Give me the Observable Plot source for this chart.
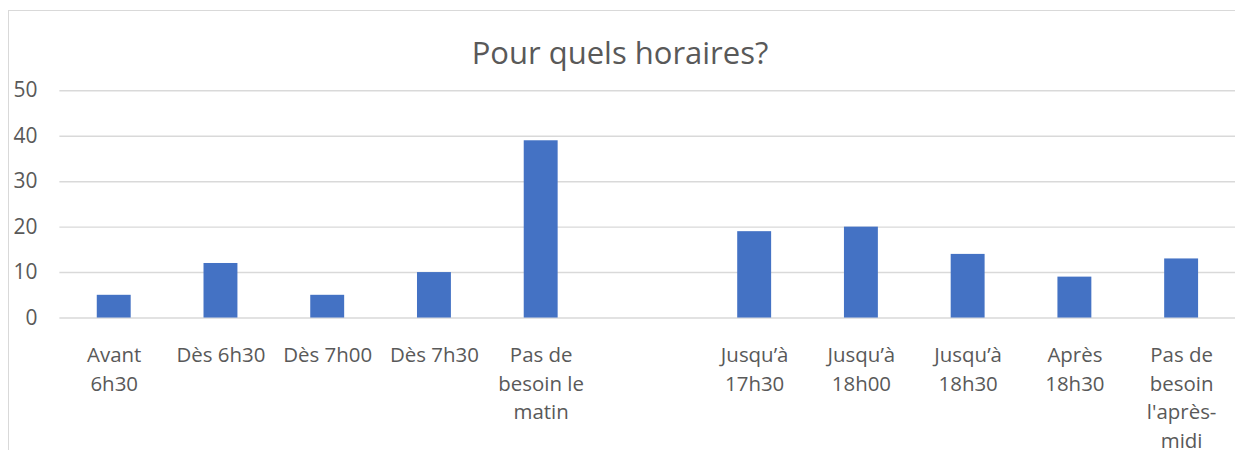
<!DOCTYPE html>
<html>
<head>
<meta charset="utf-8">
<script src="https://cdn.jsdelivr.net/npm/d3@7"></script>
<script src="https://cdn.jsdelivr.net/npm/@observablehq/plot@0.6"></script>
<style>
  html, body { margin: 0; padding: 0; background: #fff; overflow: hidden; }
  #wrap { position: relative; width: 1235px; height: 450px; overflow: hidden; }
  #frame { position: absolute; left: 8px; top: 10px; width: 1400px; height: 600px; border: 1.5px solid #d9d9d9; box-sizing: border-box; }
  #title { position: absolute; left: 0; width: 1240px; top: 37px; text-align: center; font-family: "Open Sans", sans-serif; font-size: 31px; color: #595959; line-height: 1; }
  #chart { position: absolute; left: 0; top: 0; }
</style>
</head>
<body>
<div id="wrap">
  <div id="frame"></div>
  <div id="title">Pour quels horaires?</div>
  <div id="chart"></div>
</div>
<script>
const categories = ["Avant 6h30", "Dès 6h30", "Dès 7h00", "Dès 7h30", "Pas de besoin le matin", "", "Jusqu’à 17h30", "Jusqu’à 18h00", "Jusqu’à 18h30", "Après 18h30", "Pas de besoin l'après-midi"];
const tickLabels = ["Avant\n6h30", "Dès 6h30", "Dès 7h00", "Dès 7h30", "Pas de\nbesoin le\nmatin", "", "Jusqu’à\n17h30", "Jusqu’à\n18h00", "Jusqu’à\n18h30", "Après\n18h30", "Pas de\nbesoin\nl'après-\nmidi"];
const values = [5, 12, 5, 10, 39, null, 19, 20, 14, 9, 13];
const yTicks = [0, 10, 20, 30, 40, 50];

const data = categories.map((c, i) => ({category: c, value: values[i], label: tickLabels[i]}));

const chart = Plot.plot({
  width: 1238,
  height: 450,
  marginLeft: 59.5,
  marginRight: 0,
  marginTop: 90.5,
  marginBottom: 131.7,
  style: {fontFamily: "Open Sans, sans-serif", background: "transparent", overflow: "visible"},
  x: {domain: categories, paddingInner: 0.68, paddingOuter: 0.34, axis: null},
  y: {domain: [0, 50], ticks: yTicks, axis: null},
  marks: [
    Plot.ruleY(yTicks, {stroke: "#d9d9d9", strokeWidth: 1.5}),
    Plot.barY(data.filter(d => d.value != null), {x: "category", y: "value", fill: "#4472C4"}),
    Plot.axisY(yTicks, {tickSize: 0, tickPadding: 22.5, fontSize: 21, fill: "#595959", textAnchor: "end", label: null}),
    Plot.text(data, {x: "category", text: "label", frameAnchor: "bottom", lineAnchor: "top", dy: 23.8, lineHeight: 1.4, fontSize: 20.5, fill: "#595959"})
  ]
});
document.getElementById("chart").appendChild(chart);
</script>
</body>
</html>
